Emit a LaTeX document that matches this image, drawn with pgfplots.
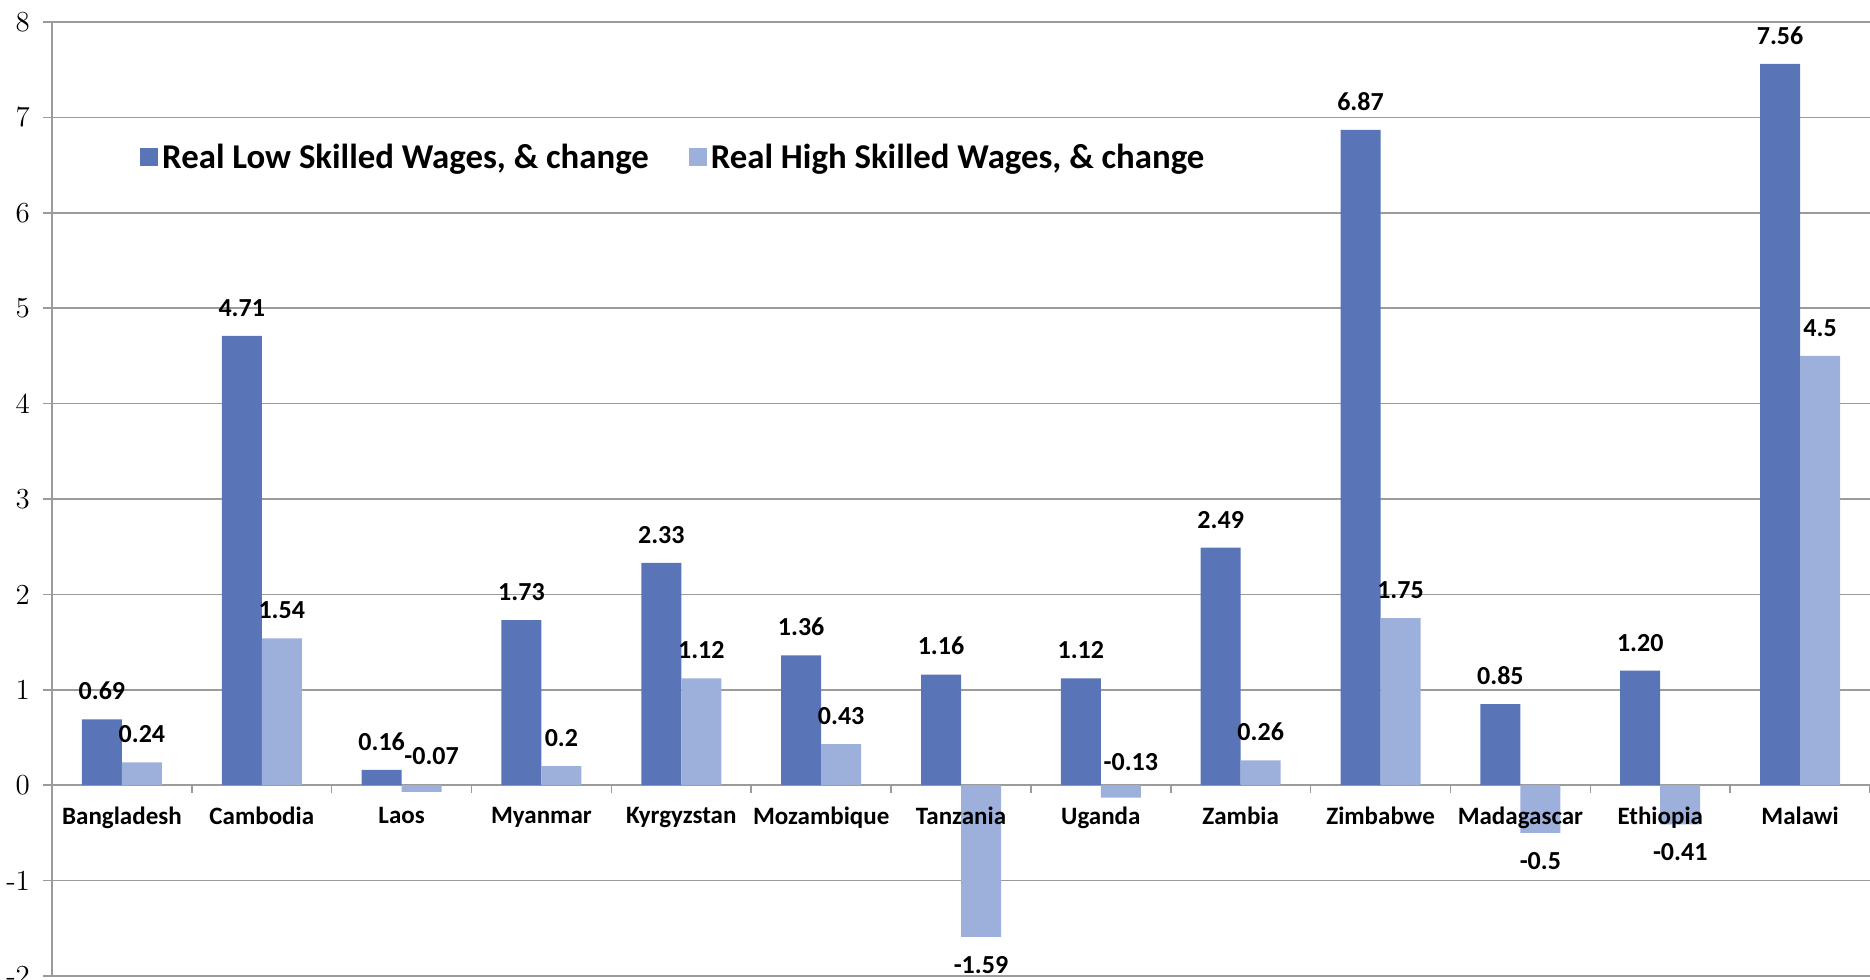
\documentclass[border=0pt]{standalone}
\usepackage{pgfplots}
\pgfplotsset{compat=1.18}
\usepackage{fontspec}
\setsansfont{Carlito}
\definecolor{lowblue}{RGB}{89,117,184}
\definecolor{highblue}{RGB}{157,175,219}
\definecolor{gridgray}{RGB}{155,155,155}

\begin{document}
\begin{tikzpicture}
\begin{axis}[
  scale only axis, width=909pt, height=477pt,
  xmin=-0.5, xmax=12.5, ymin=-2, ymax=8,
  set layers,
  ybar=0pt, bar width=20pt,
  axis x line=middle, axis y line=left,
  axis line style={-, draw=gridgray, line width=0.8pt},
  hide obscured x ticks=false, hide obscured y ticks=false,
  xtick={0,...,12},
  xticklabels={Bangladesh,Cambodia,Laos,Myanmar,Kyrgyzstan,Mozambique,Tanzania,Uganda,Zambia,Zimbabwe,Madagascar,Ethiopia,Malawi},
  minor xtick={-0.5,0.5,...,12.5},
  ytick={-2,...,8},
  tick align=outside,
  major tick length=4.5pt, minor tick length=4pt,
  tick style={draw=gridgray, line width=0.8pt},
  major x tick style={draw=none},
  ymajorgrids, major grid style={draw=gridgray, line width=0.8pt},
  /pgf/number format/assume math mode=true,
  yticklabel style={font=\rmfamily\fontsize{14.5}{16}\selectfont, xshift=-3pt},
  xticklabel style={font=\sffamily\bfseries\fontsize{12.5}{14}\selectfont, yshift=-3pt,
    /pgfplots/on layer=axis foreground},
  point meta=explicit symbolic,
  nodes near coords={\pgfplotspointmeta},
  nodes near coords style={font=\sffamily\bfseries\fontsize{13}{15}\selectfont,
    text=black, inner ysep=9.5pt},
  legend columns=2,
  legend style={at={(0.045,0.858)}, anchor=west, draw=none, fill=none,
    font=\sffamily\bfseries\fontsize{17.4}{20}\selectfont,
    /tikz/every even column/.append style={column sep=18pt}},
  legend image code/.code={\fill[#1] (-2pt,-4.5pt) rectangle (7pt,4.5pt);},
]
\addplot[fill=lowblue, draw=none] coordinates {
  (0,0.69) [0.69] (1,4.71) [4.71] (2,0.16) [0.16] (3,1.73) [1.73]
  (4,2.33) [2.33] (5,1.36) [1.36] (6,1.16) [1.16] (7,1.12) [1.12]
  (8,2.49) [2.49] (9,6.87) [6.87] (10,0.85) [0.85] (11,1.20) [1.20]
  (12,7.56) [7.56]};
% small negative changes keep their label above the bar, larger ones below
\addplot[fill=highblue, draw=none,
  visualization depends on={rawy \as \ry},
  every node near coord/.append code={%
    \ifdim\ry pt<-0.3pt\relax
      \pgfkeysalso{/tikz/anchor=north}%
    \else
      \ifdim\ry pt<0pt\relax
        \pgfkeysalso{/tikz/anchor=south,/tikz/yshift=4pt,/tikz/xshift=5pt}%
      \else
        \pgfkeysalso{/tikz/anchor=south}%
      \fi
    \fi}]
  coordinates {
  (0,0.24) [0.24] (1,1.54) [1.54] (2,-0.07) [-0.07] (3,0.2) [0.2]
  (4,1.12) [1.12] (5,0.43) [0.43] (6,-1.59) [-1.59] (7,-0.13) [-0.13]
  (8,0.26) [0.26] (9,1.75) [1.75] (10,-0.5) [-0.5] (11,-0.41) [-0.41]
  (12,4.5) [4.5]};
\legend{{Real Low Skilled Wages, \& change},{Real High Skilled Wages, \& change}}
\coordinate (bl) at (rel axis cs:0,0);
\coordinate (tr) at (rel axis cs:1,1);
\end{axis}
\pgfresetboundingbox
\path ([shift={(-26pt,-2pt)}]bl) rectangle ([shift={(0pt,11pt)}]tr);
\end{tikzpicture}
\end{document}
